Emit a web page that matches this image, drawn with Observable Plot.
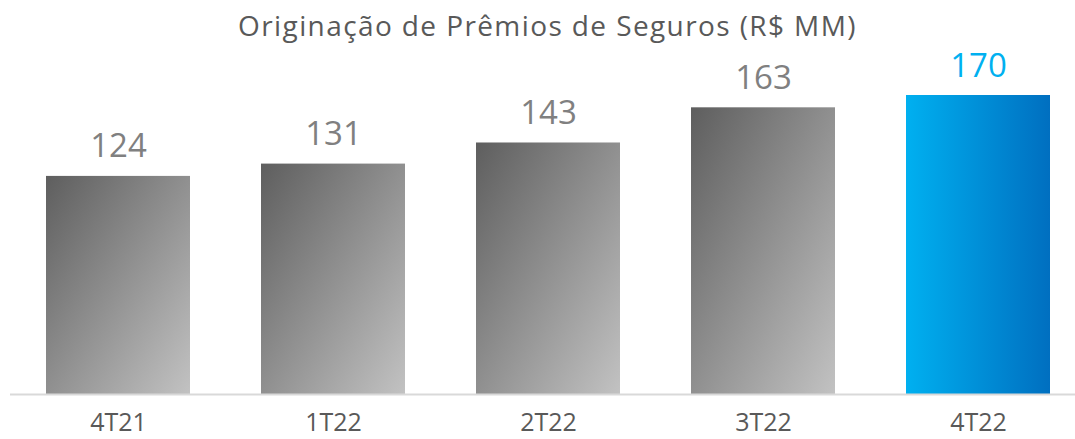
<!DOCTYPE html>
<html>
<head>
<meta charset="utf-8">
<script src="https://cdn.jsdelivr.net/npm/d3@7"></script>
<script src="https://cdn.jsdelivr.net/npm/@observablehq/plot@0.6"></script>
<style>
  html, body { margin: 0; padding: 0; background: #ffffff; }
  #title {
    height: 50px; box-sizing: border-box; padding-left: 20px; padding-top: 7px;
    text-align: center; font-family: "Open Sans", sans-serif; font-size: 28px;
    letter-spacing: 1.4px;
    color: #595959; line-height: 36px; white-space: nowrap;
  }
  #chart svg { display: block; }
</style>
</head>
<body>
<div id="title">Originação de Prêmios de Seguros (R$ MM)</div>
<div id="chart"></div>
<script>
const categories = ["4T21", "1T22", "2T22", "3T22", "4T22"];
const values = [124, 131, 143, 163, 170];
const highlighted = ["4T22"];

const data = categories.map((c, i) => ({cat: c, value: values[i], hi: highlighted.includes(c)}));

const defsMark = () => {
  const defs = d3.create("svg:defs");
  const g = defs.append("linearGradient").attr("id", "gGrey")
    .attr("x1", 0).attr("y1", 0).attr("x2", 1).attr("y2", 1);
  g.append("stop").attr("offset", "0%").attr("stop-color", "#5e5e5e");
  g.append("stop").attr("offset", "100%").attr("stop-color", "#c2c2c2");
  const b = defs.append("linearGradient").attr("id", "gBlue")
    .attr("x1", 0).attr("y1", 0).attr("x2", 1).attr("y2", 0);
  b.append("stop").attr("offset", "0%").attr("stop-color", "#00b0f0");
  b.append("stop").attr("offset", "100%").attr("stop-color", "#006fc0");
  return defs.node();
};

const chart = Plot.plot({
  width: 1075,
  height: 389,
  marginLeft: 10,
  marginRight: 0,
  marginTop: 45,
  marginBottom: 45,
  style: {fontFamily: "Open Sans, sans-serif", background: "#ffffff", overflow: "visible"},
  x: {domain: categories, paddingInner: 0.33, paddingOuter: 0.1417, align: 0.59, label: null},
  y: {domain: [0, 170], axis: null},
  marks: [
    defsMark,
    Plot.barY(data.filter(d => !d.hi), {x: "cat", y: "value", fill: "url(#gGrey)"}),
    Plot.barY(data.filter(d => d.hi), {x: "cat", y: "value", fill: "url(#gBlue)"}),
    Plot.ruleY([0], {stroke: "#d9d9d9", strokeWidth: 2}),
    Plot.text(data, {x: "cat", y: "value", text: d => String(d.value), lineAnchor: "bottom", dy: -19,
      fontSize: 33, fill: d => d.hi ? "#00b0f0" : "#808080"}),
    Plot.axisX({tickSize: 0, tickPadding: 19, fontSize: 25, color: "#595959", label: null})
  ]
});
document.getElementById("chart").appendChild(chart);
</script>
</body>
</html>
